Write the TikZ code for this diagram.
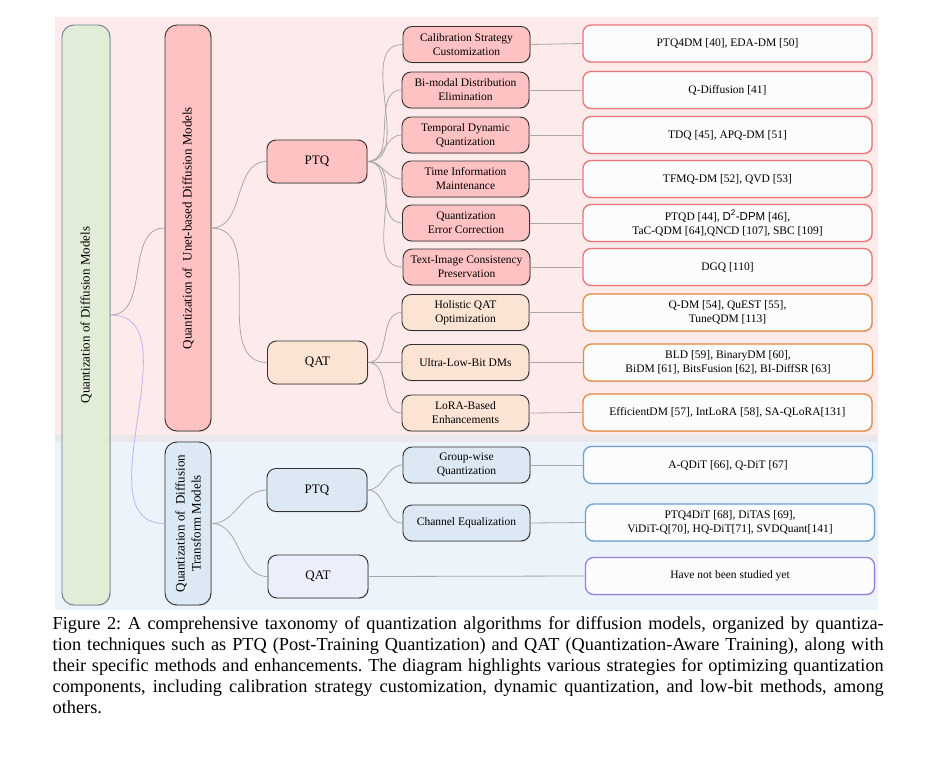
\documentclass[tikz,border=0pt]{standalone}
\usepackage{fontspec}
\setmainfont{Liberation Serif}
\setsansfont{Liberation Sans}
\usetikzlibrary{shadows}

\definecolor{bgpink}{HTML}{FDEBEB}
\definecolor{bgblue}{HTML}{EDF3FA}
\definecolor{bggap}{HTML}{E9E6EC}
\definecolor{rootfill}{HTML}{E2EDD8}
\definecolor{rootline}{HTML}{6E7C8A}
\definecolor{pinkfill}{HTML}{FFC2C2}
\definecolor{peachfill}{HTML}{FCE4D4}
\definecolor{bluefill}{HTML}{DDE8F5}
\definecolor{lilacfill}{HTML}{EBEEFB}
\definecolor{leaffill}{HTML}{FBFCFD}
\definecolor{redline}{HTML}{EC7474}
\definecolor{orangeline}{HTML}{E9883F}
\definecolor{blueline}{HTML}{6CA0D5}
\definecolor{purpleline}{HTML}{9A7EDB}
\definecolor{edgegray}{HTML}{A8A8A8}
\definecolor{edgelilac}{HTML}{BFB3F2}
\definecolor{boxline}{HTML}{303030}

\begin{document}
\begin{tikzpicture}[x=1pt,y=-1pt,
  box/.style={draw=boxline,line width=0.9pt,rounded corners=9pt,inner sep=0pt,align=center,
    drop shadow={shadow xshift=0.8pt,shadow yshift=-0.8pt,opacity=0.3}},
  topbox/.style={box,rotate=90,rounded corners=12pt,font=\fontsize{13}{16}\selectfont},
  midbox/.style={box,minimum width=100pt,minimum height=43pt,font=\fontsize{13}{16}\selectfont},
  subbox/.style={box,minimum width=127pt,minimum height=36pt,font=\fontsize{11.5}{14}\selectfont},
  leaf/.style={box,line width=1.3pt,rounded corners=8pt,fill=leaffill,minimum width=289pt,
    minimum height=37pt,font=\fontsize{11.5}{14}\selectfont},
  edge/.style={draw=edgegray,line width=0.8pt},
]
  \useasboundingbox (0,0) rectangle (932,758);

  % backgrounds
  \fill[bgpink] (55,17) rectangle (878,435);
  \fill[bggap] (55,435) rectangle (878,442);
  \fill[bgblue] (55,442) rectangle (878,610);

  % level 1
  \node[topbox,draw=rootline,fill=rootfill,minimum width=580pt,minimum height=48pt] (root) at (86,315)
    {Quantization of Diffusion Models};
  \node[topbox,fill=pinkfill,minimum width=406pt,minimum height=46pt] (unet) at (188,228)
    {Quantization of\ \ Unet-based Diffusion Models};
  \node[topbox,fill=bluefill,minimum width=163pt,minimum height=46pt] (dit) at (188,523.5)
    {Quantization of\ \ Diffusion\\Transform Models};

  % level 2
  \node[midbox,fill=pinkfill] (uptq) at (317,161.5) {PTQ};
  \node[midbox,fill=peachfill] (uqat) at (317.5,362.5) {QAT};
  \node[midbox,fill=bluefill] (dptq) at (317,490) {PTQ};
  \node[midbox,fill=lilacfill] (dqat) at (318,576.5) {QAT};

  % level 3, unet ptq
  \node[subbox,fill=pinkfill] (calib) at (466.5,44.5) {Calibration Strategy\\Customization};
  \node[subbox,fill=pinkfill] (bimodal) at (465.5,90) {Bi-modal Distribution\\Elimination};
  \node[subbox,fill=pinkfill] (temporal) at (465.5,135) {Temporal Dynamic\\Quantization};
  \node[subbox,fill=pinkfill] (timeinfo) at (465.5,179) {Time Information\\Maintenance};
  \node[subbox,fill=pinkfill] (errcorr) at (466,223) {Quantization\\Error Correction};
  \node[subbox,fill=pinkfill] (textimg) at (466.5,267) {Text-Image Consistency\\Preservation};
  % level 3, unet qat
  \node[subbox,fill=peachfill] (holistic) at (465.5,312.5) {Holistic QAT\\Optimization};
  \node[subbox,fill=peachfill] (lowbit) at (465.5,362.5) {Ultra-Low-Bit DMs};
  \node[subbox,fill=peachfill] (lora) at (465.5,413) {LoRA-Based\\Enhancements};
  % level 3, dit ptq
  \node[subbox,fill=bluefill] (group) at (466.5,465) {Group-wise\\Quantization};
  \node[subbox,fill=bluefill] (channel) at (466.5,523) {Channel Equalization};

  % leaves
  \node[leaf,draw=redline] (l-calib) at (727.5,43.5) {PTQ4DM [40], EDA-DM [50]};
  \node[leaf,draw=redline] (l-bimodal) at (727.5,90) {Q-Diffusion [41]};
  \node[leaf,draw=redline] (l-temporal) at (727.5,135) {TDQ [45], APQ-DM [51]};
  \node[leaf,draw=redline] (l-timeinfo) at (727.5,179) {TFMQ-DM [52], QVD [53]};
  \node[leaf,draw=redline] (l-errcorr) at (727.5,223)
    {PTQD [44], {\sffamily D\textsuperscript{2}-DPM} [46],\\TaC-QDM [64],QNCD [107], SBC [109]};
  \node[leaf,draw=redline] (l-textimg) at (727.5,267) {DGQ [110]};
  \node[leaf,draw=orangeline] (l-holistic) at (727.5,312.5) {Q-DM [54], QuEST [55],\\TuneQDM [113]};
  \node[leaf,draw=orangeline] (l-lowbit) at (728,362.5)
    {BLD [59], BinaryDM [60],\\BiDM [61], BitsFusion [62], BI-DiffSR [63]};
  \node[leaf,draw=orangeline] (l-lora) at (727.5,412.5) {EfficientDM [57], IntLoRA [58], SA-QLoRA[131]};
  \node[leaf,draw=blueline] (l-group) at (728,465) {A-QDiT [66], Q-DiT [67]};
  \node[leaf,draw=blueline] (l-channel) at (730,522.5)
    {PTQ4DiT [68], DiTAS [69],\\ViDiT-Q[70], HQ-DiT[71], SVDQuant[141]};
  \node[leaf,draw=purpleline] (l-dqat) at (730,576) {Have not been studied yet};

  % curved links
  \draw[edge] (root.south) to[out=0,in=180] (unet.north);
  \draw[edge,draw=edgelilac] (root.south) to[out=0,in=180] (dit.north);
  \draw[edge] (unet.south) to[out=0,in=180] (uptq.west);
  \draw[edge] (unet.south) to[out=0,in=180] (uqat.west);
  \draw[edge] (dit.south) to[out=0,in=180] (dptq.west);
  \draw[edge] (dit.south) to[out=0,in=180] (dqat.west);
  \draw[edge] (uptq.east) to[out=0,in=180] (calib.west);
  \draw[edge] (uptq.east) to[out=0,in=180] (bimodal.west);
  \draw[edge] (uptq.east) to[out=0,in=180] (temporal.west);
  \draw[edge] (uptq.east) to[out=0,in=180] (timeinfo.west);
  \draw[edge] (uptq.east) to[out=0,in=180] (errcorr.west);
  \draw[edge] (uptq.east) to[out=0,in=180] (textimg.west);
  \draw[edge] (uqat.east) to[out=0,in=180] (holistic.west);
  \draw[edge] (uqat.east) -- (lowbit.west);
  \draw[edge] (uqat.east) to[out=0,in=180] (lora.west);
  \draw[edge] (dptq.east) to[out=0,in=180] (group.west);
  \draw[edge] (dptq.east) to[out=0,in=180] (channel.west);

  % straight links to leaves
  \draw[edge] (calib.east) -- (l-calib.west);
  \draw[edge] (bimodal.east) -- (l-bimodal.west);
  \draw[edge] (temporal.east) -- (l-temporal.west);
  \draw[edge] (timeinfo.east) -- (l-timeinfo.west);
  \draw[edge] (errcorr.east) -- (l-errcorr.west);
  \draw[edge] (textimg.east) -- (l-textimg.west);
  \draw[edge] (holistic.east) -- (l-holistic.west);
  \draw[edge] (lowbit.east) -- (l-lowbit.west);
  \draw[edge] (lora.east) -- (l-lora.west);
  \draw[edge] (group.east) -- (l-group.west);
  \draw[edge] (channel.east) -- (l-channel.west);
  \draw[edge] (dqat.east) -- (l-dqat.west);

  % caption
  \node[anchor=north west,inner sep=0pt,text width=831pt,align=justify,
    font=\fontsize{18.3}{21}\selectfont\frenchspacing] (caption) at (52.5,616)
    {Figure 2: A comprehensive taxonomy of quantization algorithms for diffusion models, organized by quantiza-\linebreak
     tion techniques such as PTQ (Post-Training Quantization) and QAT (Quantization-Aware Training), along with\linebreak
     their specific methods and enhancements. The diagram highlights various strategies for optimizing quantization\linebreak
     components, including calibration strategy customization, dynamic quantization, and low-bit methods, among\linebreak
     others.};
\end{tikzpicture}
\end{document}
